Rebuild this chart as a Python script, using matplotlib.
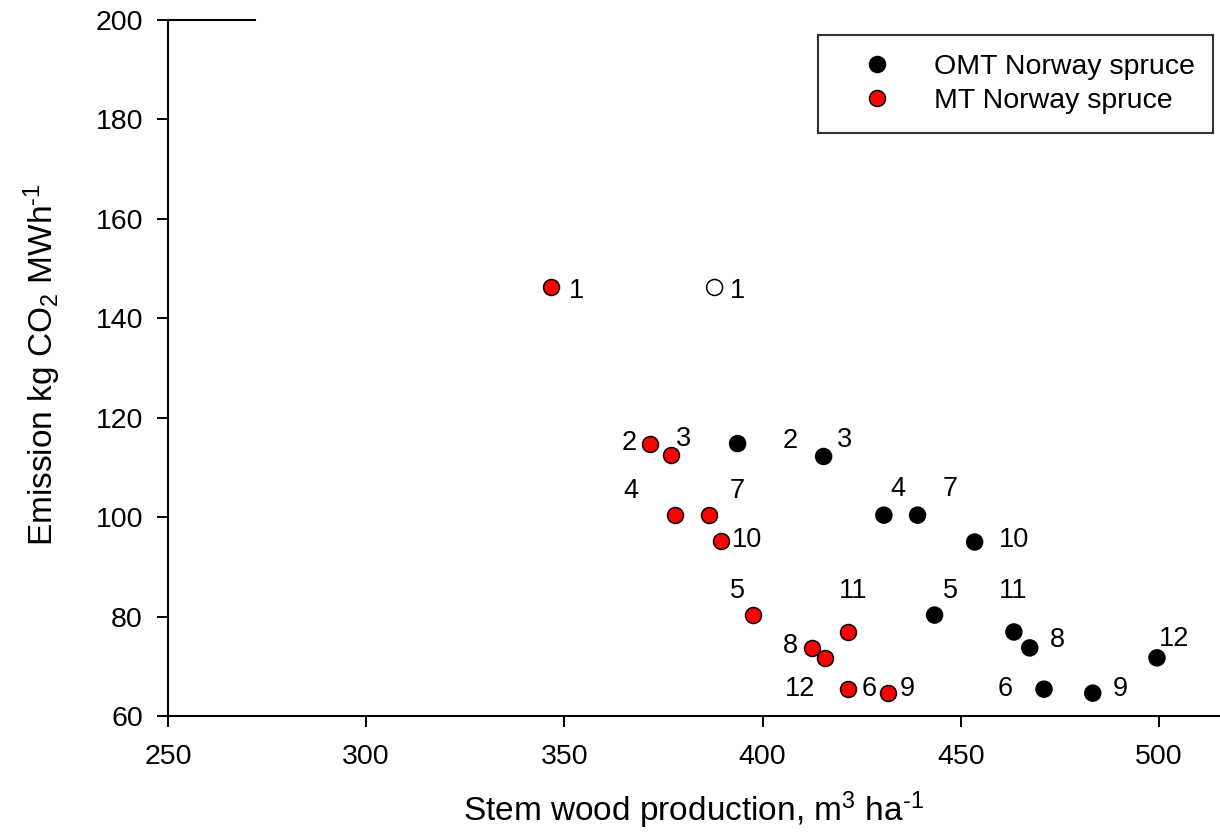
import matplotlib
matplotlib.use("Agg")
import matplotlib.pyplot as plt

plt.rcParams['font.family'] = ['Liberation Sans', 'DejaVu Sans']
plt.rcParams['mathtext.fontset'] = 'custom'
plt.rcParams['mathtext.rm'] = 'Liberation Sans'
plt.rcParams['mathtext.it'] = 'Liberation Sans:italic'

# scenario numbers 1..12
labels = [str(i) for i in range(1, 13)]

# MT Norway spruce
mt_x = [346.5, 371.5, 377.0, 377.8, 397.7, 421.5, 386.4, 412.4, 431.6, 389.4, 421.5, 415.7]
mt_y = [146.2, 114.8, 112.4, 100.5, 80.3, 65.4, 100.5, 73.7, 64.6, 95.2, 76.9, 71.7]

# OMT Norway spruce (scenario 1 drawn as open circle)
omt_x = [387.9, 393.7, 415.4, 430.6, 443.4, 471.0, 439.1, 467.4, 483.3, 453.5, 463.4, 499.5]
omt_y = [146.2, 114.8, 112.2, 100.4, 80.3, 65.4, 100.4, 73.7, 64.6, 95.0, 76.9, 71.7]

# label offsets in pixels (dx, dy)
mt_off = [(26, -4), (-20, 1), (12, 16), (-44, 24), (-16, 24), (21, 0),
          (29, 24), (-21, 2), (19, 4), (26, 1), (5, 41), (-25, -31)]
omt_off = [(23, -4), (53, 3), (21, 16), (14, 26), (16, 24), (-39, 0),
           (33, 26), (28, 8), (27, 4), (39, 2), (-1, 41), (17, 19)]

fig = plt.figure(figsize=(12.2, 8.34), dpi=100)
ax = fig.add_axes([168/1220, 1-716/834, 1-168/1220, (716-20)/834])

omt_face = ['white'] + ['black'] * (len(omt_x) - 1)
ax.scatter(omt_x, omt_y, s=132, c=omt_face, edgecolors='black', linewidths=1.1,
           zorder=3, clip_on=False)
ax.scatter(mt_x, mt_y, s=132, c='#ff0000', edgecolors='black', linewidths=1.1,
           zorder=3, clip_on=False)

for xs, ys, offs in ((mt_x, mt_y, mt_off), (omt_x, omt_y, omt_off)):
    for lab, x, y, o in zip(labels, xs, ys, offs):
        ax.annotate(lab, (x, y), xytext=o, textcoords='offset pixels',
                    ha='center', va='center', fontsize=19.5)

# legend proxies
ax.plot([], [], 'o', ms=11.5, mfc='black', mec='black', mew=1.1,
        label='OMT Norway spruce')
ax.plot([], [], 'o', ms=11.5, mfc='#ff0000', mec='black', mew=1.1,
        label='MT Norway spruce')
leg = ax.legend(loc='upper right', bbox_to_anchor=(1213/1220, 1-35/834),
                bbox_transform=fig.transFigure, fontsize=20.5, frameon=True,
                fancybox=False, borderpad=0.65, handletextpad=0.6,
                handlelength=2.8, borderaxespad=0, labelspacing=0.3)
leg.get_frame().set_edgecolor('black')
leg.get_frame().set_linewidth(1.5)

ax.set_xlim(250, 515.4)
ax.set_ylim(60, 200)
ax.set_xticks([250, 300, 350, 400, 450, 500])
ax.set_yticks([60, 80, 100, 120, 140, 160, 180, 200])

ax.spines['right'].set_visible(False)
ax.spines['top'].set_bounds(250, 272)
for s in ('left', 'bottom', 'top'):
    ax.spines[s].set_linewidth(1.5)
ax.tick_params(axis='both', direction='out', length=8, width=1.4, labelsize=20.5)
ax.tick_params(axis='y', pad=10)
ax.tick_params(axis='x', pad=12)
ax.tick_params(top=False, right=False)

ax.set_xlabel('Stem wood production, m$^3$ ha$^{\\text{-}1}$', fontsize=24)
ax.set_ylabel('Emission kg CO$_2$ MWh$^{\\text{-}1}$', fontsize=24)
ax.xaxis.set_label_coords(0.5, -0.105)
ax.yaxis.set_label_coords(-0.1, 0.505)

fig.savefig('out.png', dpi=100)
